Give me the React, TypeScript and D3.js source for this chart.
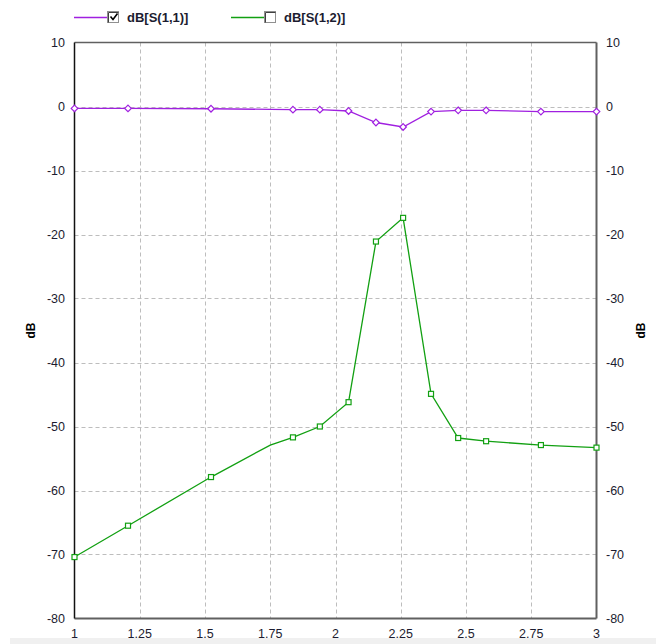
import React from "react";
import * as d3 from "d3";

const freq = [1.0, 1.205, 1.523, 1.75, 1.837, 1.94, 2.05, 2.155, 2.259, 2.366, 2.47, 2.577, 2.787, 3.0];
const s11 = [-0.3, -0.3, -0.35, -0.45, -0.5, -0.5, -0.7, -2.5, -3.2, -0.8, -0.6, -0.6, -0.8, -0.8];
const s12 = [-70.4, -65.5, -57.9, -52.9, -51.7, -50.0, -46.2, -21.1, -17.4, -44.9, -51.8, -52.3, -52.9, -53.3];
const marked = [true, true, true, false, true, true, true, true, true, true, true, true, true, true];
const xTicks = [1, 1.25, 1.5, 1.75, 2, 2.25, 2.5, 2.75, 3];
const xTickLabels = ["1", "1.25", "1.5", "1.75", "2", "2.25", "2.5", "2.75", "3"];
const yTicks = [10, 0, -10, -20, -30, -40, -50, -60, -70, -80];
const seriesNames = ["dB[S(1,1)]", "dB[S(1,2)]"];
const seriesChecked = [true, false];

const W = 656, H = 644;
const L = 74.5, R = 596.5, T = 42.5, B = 618.5;
const PURPLE = "#a020e0";
const GREEN = "#12a012";
const FONT = "'Liberation Sans', Arial, sans-serif";
const TXT = "#1c1c30";

export default function App() {
  const x = d3.scaleLinear().domain([1, 3]).range([L, R]);
  const y = d3.scaleLinear().domain([-80, 10]).range([B, T]);
  const line = d3.line<number>().x((_, i) => x(freq[i])).y((d) => y(d));

  const diamond = (cx: number, cy: number, r: number) =>
    `M${cx},${cy - r}L${cx + r},${cy}L${cx},${cy + r}L${cx - r},${cy}Z`;

  return (
    <svg width={W} height={H} style={{ position: "absolute", left: 0, top: 0, background: "#fff" }}
      fontFamily={FONT}>
      <rect x={0} y={0} width={W} height={H} fill="#fff" />
      {/* bottom band */}
      <rect x={10} y={638} width={W - 10} height={6} fill="#f0f0f0" />
      {/* grid */}
      {xTicks.slice(1, -1).map((t) => (
        <line key={"gx" + t} x1={Math.round(x(t)) + 0.5} x2={Math.round(x(t)) + 0.5} y1={T} y2={B}
          stroke="#bdbdbd" strokeDasharray="4,3" />
      ))}
      {yTicks.slice(1, -1).map((t) => (
        <line key={"gy" + t} x1={L} x2={R} y1={Math.round(y(t)) + 0.5} y2={Math.round(y(t)) + 0.5}
          stroke="#bdbdbd" strokeDasharray="4,3" />
      ))}
      {/* frame */}
      <line x1={L} x2={R} y1={T} y2={T} stroke="#606060" strokeWidth={1.5} />
      <line x1={R} x2={R} y1={T} y2={B} stroke="#606060" strokeWidth={2} />
      <line x1={L} x2={R} y1={B} y2={B} stroke="#606060" strokeWidth={2} />
      <line x1={L} x2={L} y1={T} y2={B} stroke="#111" strokeWidth={1.5} />

      {/* series */}
      <path d={line(s12) || ""} fill="none" stroke={GREEN} strokeWidth={1.3} />
      <path d={line(s11) || ""} fill="none" stroke={PURPLE} strokeWidth={1.3} />
      {s12.map((v, i) => marked[i] ? (
        <rect key={"m2" + i} x={x(freq[i]) - 2.5} y={y(v) - 2.5} width={5} height={5}
          fill="#fff" stroke={GREEN} strokeWidth={1.2} />
      ) : null)}
      {s11.map((v, i) => marked[i] ? (
        <path key={"m1" + i} d={diamond(x(freq[i]), y(v), 3.3)} fill="#fff" stroke={PURPLE} strokeWidth={1.2} />
      ) : null)}

      {/* y labels */}
      {yTicks.map((t) => (
        <g key={"yl" + t}>
          <text x={65} y={y(t) + 4.5} textAnchor="end" fontSize={12.5} fill={TXT}>{t}</text>
          <text x={606} y={y(t) + 4.5} textAnchor="start" fontSize={12.5} fill={TXT}>{t}</text>
        </g>
      ))}
      {xTicks.map((t, i) => (
        <text key={"xl" + t} x={x(t)} y={638} textAnchor="middle" fontSize={12.5} fill={TXT}>{xTickLabels[i]}</text>
      ))}
      <text transform={`translate(35,${(T + B) / 2}) rotate(-90)`} textAnchor="middle" fontSize={12}
        fontWeight="bold" fill="#000">dB</text>
      <text transform={`translate(645,${(T + B) / 2}) rotate(-90)`} textAnchor="middle" fontSize={12}
        fontWeight="bold" fill="#000">dB</text>

      {/* legend */}
      {seriesNames.map((n, i) => {
        const x0 = i === 0 ? 74 : 231;
        const col = i === 0 ? PURPLE : GREEN;
        return (
          <g key={"lg" + i}>
            <line x1={x0} x2={x0 + 33} y1={17.5} y2={17.5} stroke={col} strokeWidth={1.3} />
            <rect x={x0 + 33.5} y={11.5} width={11} height={11} fill="#fff" stroke="#909090" strokeWidth={1} />
            <path d={`M${x0 + 34.5},${12.5}h10`} stroke="#404040" strokeWidth={1} />
            <path d={`M${x0 + 34.5},${12.5}v10`} stroke="#404040" strokeWidth={1} />
            {seriesChecked[i] ? (
              <path d={`M${x0 + 36.5},${16.5}l2.5,3l4.5,-6`} fill="none" stroke="#000" strokeWidth={1.6} />
            ) : null}
            <text x={x0 + 53} y={22} fontSize={13} fontWeight="bold" fill={TXT}>{n}</text>
          </g>
        );
      })}
    </svg>
  );
}
